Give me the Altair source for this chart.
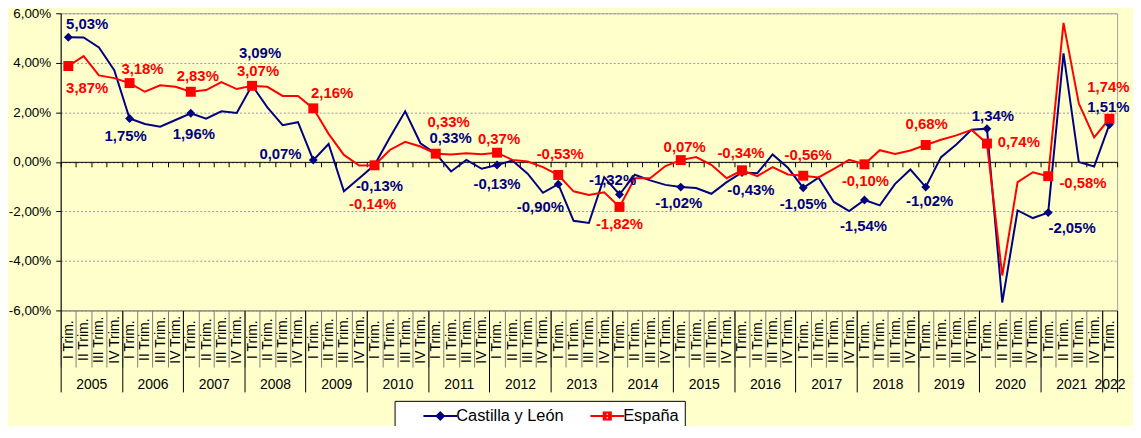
import json
import altair as alt
import pandas as pd

# ---------------- data ----------------
years = [2005, 2006, 2007, 2008, 2009, 2010, 2011, 2012, 2013, 2014, 2015,
         2016, 2017, 2018, 2019, 2020, 2021, 2022]
quarters = ["I Trim.", "II Trim.", "III Trim.", "IV Trim."]
series_names = ["Castilla y León", "España"]
series_colors = ["#000080", "#FF0000"]

cyl = [5.03, 5.02, 4.62, 3.70, 1.75, 1.53, 1.42, 1.69, 1.96, 1.74, 2.04, 1.97,
       3.09, 2.20, 1.48, 1.60, 0.07, 0.72, -1.19, -0.66, -0.13, 0.98, 2.04, 0.75,
       0.33, -0.39, 0.08, -0.28, -0.13, 0.05, -0.48, -1.25, -0.90, -2.38, -2.47, -0.62,
       -1.32, -0.52, -0.75, -0.93, -1.02, -1.06, -1.29, -0.82, -0.43, -0.46, 0.30, -0.24,
       -1.05, -0.64, -1.62, -1.99, -1.54, -1.76, -0.89, -0.31, -1.02, 0.19, 0.70, 1.30,
       1.34, -5.68, -1.96, -2.27, -2.05, 4.38, -0.01, -0.19, 1.51]
esp = [3.87, 4.27, 3.49, 3.38, 3.18, 2.83, 3.09, 3.03, 2.83, 2.90, 3.22, 2.94,
       3.07, 3.03, 2.66, 2.66, 2.16, 1.13, 0.28, -0.15, -0.14, 0.48, 0.81, 0.62,
       0.33, 0.30, 0.35, 0.31, 0.37, 0.08, 0.01, -0.21, -0.53, -1.19, -1.34, -1.23,
       -1.82, -0.66, -0.66, -0.17, 0.07, 0.19, -0.12, -0.66, -0.34, -0.58, -0.21, -0.51,
       -0.56, -0.63, -0.28, 0.08, -0.10, 0.47, 0.32, 0.46, 0.68, 0.89, 1.07, 1.29,
       0.74, -4.59, -0.82, -0.42, -0.58, 5.61, 2.36, 0.99, 1.74]

# label placement (pixel offsets of each first-quarter label from its marker)
cyl_label_dx = [19, -4, 3, 8, -33, 5, 15, 0, -18, -7, -2, 9, 0, -1, 4, 6, 24, -1]
cyl_label_dy = [-13, 18, 21, -32, -6, 21, -16, 19, 23, -15, 16, 18, 16, 26, 14, -13, 16, -18]
esp_label_dx = [19, 13, 7, 6, 19, -2, 13, 2, 2, 0, 4, -1, 5, 1, 1, 32, 35, -1]
esp_label_dy = [22, -14, -16, -15, -15, 39, -32, -14, -21, 17, -13, -17, -21, 17, -21, -2, 7, -32]

# ---------------- tables ----------------
n = len(cyl)
pos = [i + 0.5 for i in range(n)]
cyl_df = pd.DataFrame({"pos": pos, "value": cyl})
esp_df = pd.DataFrame({"pos": pos, "value": esp})


def fmt(v):
    return f"{v:.2f}".replace(".", ",") + "%"


q1 = list(range(0, n, 4))
cyl_pts = pd.DataFrame({
    "pos": [pos[i] for i in q1],
    "value": [cyl[i] for i in q1],
    "label": [fmt(cyl[i]) for i in q1],
    "dx": cyl_label_dx,
    "dy": cyl_label_dy,
})
esp_pts = pd.DataFrame({
    "pos": [pos[i] for i in q1],
    "value": [esp[i] for i in q1],
    "label": [fmt(esp[i]) for i in q1],
    "dx": esp_label_dx,
    "dy": esp_label_dy,
})
legend_df = pd.DataFrame({"series": series_names})

# ---------------- scales & axes ----------------
FONT = "Liberation Sans"
W, H = 1063, 299
Y_MIN, Y_MAX = -6, 6
xs = alt.Scale(domain=[0, n], nice=False, zero=False)
ys = alt.Scale(domain=[Y_MIN, Y_MAX], nice=False, zero=False)
X_PER_PX = n / W
Y_PER_PX = (Y_MAX - Y_MIN) / H

yaxis = alt.Axis(
    values=[-6, -4, -2, 0, 2, 4, 6],
    labelExpr="(datum.value < 0 ? '-' : '') + replace(format(abs(datum.value), '.2f'), '.', ',') + '%'",
    grid=True, gridDash=[2, 2], gridColor="#9A9A9A", gridWidth=1,
    tickColor="black", tickSize=5, domainColor="black", domainWidth=1,
    labelPadding=5, labelFontSize=13.5, labelFont=FONT, labelColor="black", title=None,
)

year_centers = []
for k, _y in enumerate(years):
    s, e = 4 * k, min(4 * k + 4, n)
    year_centers.append((s + e) / 2)
year_bounds = [4 * k for k in range(len(years))] + [n]

ax_quarter = alt.Axis(
    orient="bottom", values=pos,
    labelExpr=f"{json.dumps(quarters)}[floor(datum.value) % 4]",
    labelAngle=270, labelAlign="center", labelBaseline="middle", labelPadding=29,
    ticks=False, tickSize=0, domain=False, grid=False, title=None,
    labelOverlap=False, labelFlush=False, labelBound=False,
    labelFontSize=14, labelFont=FONT, labelColor="black",
)
ax_qsep = alt.Axis(
    orient="bottom", values=list(range(n + 1)), labels=False, ticks=True, tickSize=57,
    tickColor="#7F7F7F", domain=True, domainColor="#7F7F7F", grid=False, title=None,
)
ax_ysep = alt.Axis(
    orient="bottom", values=year_bounds, labels=False, ticks=True, tickSize=82,
    tickColor="black", domain=False, grid=False, title=None,
)
ax_year = alt.Axis(
    orient="bottom", values=year_centers,
    labelExpr=f"{json.dumps([str(y) for y in years])}[floor(datum.value / 4)]",
    ticks=False, tickSize=0, domain=False, grid=False, title=None,
    labelPadding=75, labelBaseline="middle", labelAlign="center",
    labelOverlap=False, labelFlush=False, labelBound=False,
    labelFontSize=14, labelFont=FONT, labelColor="black",
)
ax_zero = alt.Axis(
    orient="bottom", values=list(range(n + 1)), labels=False, ticks=True, tickSize=5,
    tickColor="black", domain=True, domainColor="black", domainWidth=1, grid=False,
    title=None, offset=-H / 2,
)

color_scale = alt.Scale(domain=series_names, range=series_colors)
shape_scale = alt.Scale(
    domain=series_names,
    range=["M-2.125,0H2.125M0,-0.45L0.45,0L0,0.45L-0.45,0ZM0,-0.3V0.3",
           "M-2.125,0H2.125M-0.45,-0.45H0.45V0.45H-0.45ZM-0.2,-0.45V0.45M0.2,-0.45V0.45"],
)
NBSP = "\u00a0"
leg = alt.Legend(
    title=None, orient="none", legendX=336, legendY=390, direction="horizontal",
    fillColor="white", strokeColor="black", padding=6,
    symbolSize=256, symbolStrokeWidth=2, symbolOffset=31, labelOffset=7,
    columnPadding=3, labelFont=FONT, labelFontSize=16.5, labelColor="black",
    labelExpr=f"datum.label + (datum.label == '{series_names[1]}' ? '{NBSP * 2}' : '')",
)

# ---------------- layers ----------------
cyl_line = alt.Chart(cyl_df).mark_line(strokeWidth=2, color=series_colors[0]).encode(
    x=alt.X("pos:Q", scale=xs, axis=ax_quarter),
    y=alt.Y("value:Q", scale=ys, axis=yaxis),
)
esp_line = alt.Chart(esp_df).mark_line(strokeWidth=2, color=series_colors[1]).encode(
    x=alt.X("pos:Q", scale=xs, axis=ax_qsep),
    y=alt.Y("value:Q", scale=ys, axis=yaxis),
)
cyl_marks = alt.Chart(cyl_pts).mark_point(
    shape="diamond", filled=True, size=80, color=series_colors[0], opacity=1
).encode(
    x=alt.X("pos:Q", scale=xs, axis=ax_ysep),
    y=alt.Y("value:Q", scale=ys, axis=yaxis),
)
esp_marks = alt.Chart(esp_pts).mark_point(
    shape="square", filled=True, size=100, color=series_colors[1], opacity=1
).encode(
    x=alt.X("pos:Q", scale=xs, axis=ax_year),
    y=alt.Y("value:Q", scale=ys, axis=yaxis),
)
text_style = dict(font=FONT, fontSize=15, fontWeight="bold", align="center", baseline="middle")


def label_layer(df, color, axis):
    return alt.Chart(df).transform_calculate(
        lx=f"datum.pos + datum.dx * {X_PER_PX}",
        ly=f"datum.value - datum.dy * {Y_PER_PX}",
    ).mark_text(color=color, **text_style).encode(
        x=alt.X("lx:Q", scale=xs, axis=axis),
        y=alt.Y("ly:Q", scale=ys, axis=yaxis),
        text="label:N",
    )


cyl_text = label_layer(cyl_pts, series_colors[0], ax_zero)
esp_text = label_layer(esp_pts, series_colors[1], None)

legend_layer = alt.Chart(legend_df).transform_filter("false").mark_point(
    filled=False, opacity=1, strokeWidth=2
).encode(
    color=alt.Color("series:N", scale=color_scale, legend=leg),
    shape=alt.Shape("series:N", scale=shape_scale, legend=leg),
)

chart = alt.layer(
    cyl_line, esp_line, cyl_marks, esp_marks, cyl_text, esp_text, legend_layer
).resolve_axis(x="independent").properties(
    width=W, height=H, background="#FFFFCC",
    padding={"left": 53, "top": 4, "right": 16, "bottom": 115},
    autosize=alt.AutoSizeParams(type="none"),
).configure_view(stroke="#A0A0A0", strokeWidth=1, fill="white")

chart.save("out.html", embed_options={"renderer": "svg", "actions": False})
